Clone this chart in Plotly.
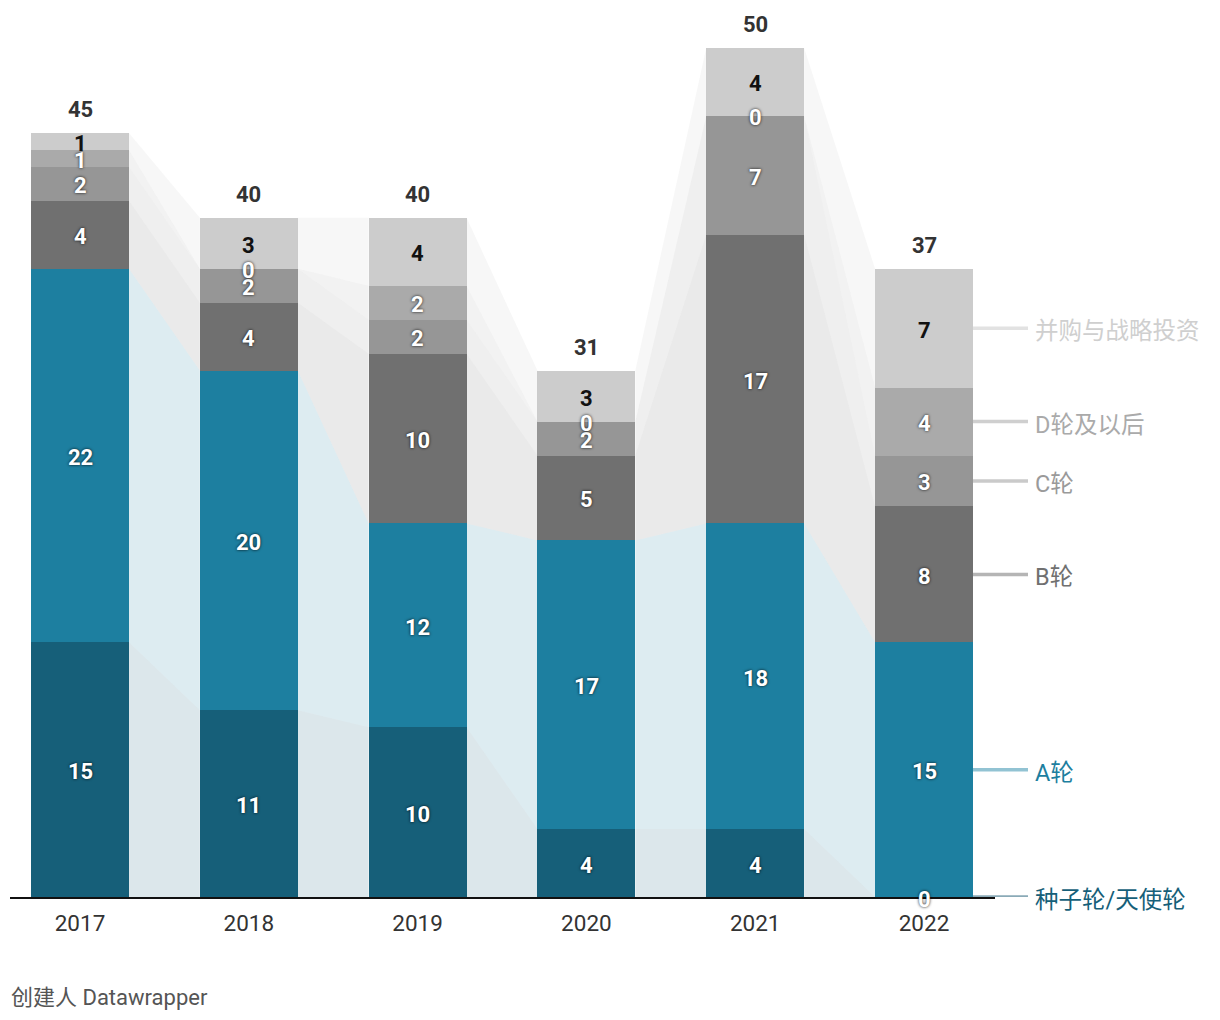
import plotly.graph_objects as go

years = ["2017", "2018", "2019", "2020", "2021", "2022"]
series_names = ["种子轮/天使轮", "A轮", "B轮", "C轮", "D轮及以后", "并购与战略投资"]
seed = [15, 11, 10, 4, 4, 0]
round_a = [22, 20, 12, 17, 18, 15]
round_b = [4, 4, 10, 5, 17, 8]
round_c = [2, 2, 2, 2, 7, 3]
round_d = [1, 0, 2, 0, 0, 4]
mna = [1, 3, 4, 3, 4, 7]
totals = [45, 40, 40, 31, 50, 37]

series_values = [seed, round_a, round_b, round_c, round_d, mna]
colors = ["#165f79", "#1d7fa0", "#707070", "#969696", "#aaaaaa", "#cccccc"]
fill_colors = ["rgba(22,95,121,0.15)", "rgba(29,127,160,0.15)", "rgba(112,112,112,0.15)",
               "rgba(150,150,150,0.15)", "rgba(170,170,170,0.15)", "rgba(204,204,204,0.15)"]
line_colors = ["#8aaab7", "#92c3d3", "#b5b5b5", "#cacaca", "#cfcfcf", "#e2e2e2"]
label_colors = ["#165f79", "#1d7fa0", "#707070", "#9a9a9a", "#aaaaaa", "#cfcfcf"]

FONT = "Roboto, 'Noto Sans CJK SC', sans-serif"
W = 0.58
n = len(years)
xs = list(range(n))
XMIN, XMAX = -0.4147, 5.4206

# cumulative bases
bases = []
cum = [0] * n
for vals in series_values:
    bases.append(cum[:])
    cum = [c + v for c, v in zip(cum, vals)]

fig = go.Figure()

# connecting areas
for k, vals in enumerate(series_values):
    px, py = [], []
    for i in range(n - 1):
        b0, t0 = bases[k][i], bases[k][i] + vals[i]
        b1, t1 = bases[k][i + 1], bases[k][i + 1] + vals[i + 1]
        xa, xb = i + W / 2, i + 1 - W / 2
        px += [xa, xa, xb, xb, xa, None]
        py += [b0, t0, t1, b1, b0, None]
    fig.add_trace(go.Scatter(x=px, y=py, mode="lines", fill="toself",
                             fillcolor=fill_colors[k], line=dict(width=0),
                             hoverinfo="skip", showlegend=False))

# bars
for k, vals in enumerate(series_values):
    fig.add_trace(go.Bar(x=xs, y=vals, width=W, marker=dict(color=colors[k], line=dict(width=0)),
                         name=series_names[k], showlegend=False))

# segment labels
for k, vals in enumerate(series_values):
    is_top = (k == len(series_values) - 1)
    for i, v in enumerate(vals):
        mid = bases[k][i] + v / 2
        fig.add_annotation(
            x=i, y=mid, text=f"<b>{v}</b>", showarrow=False, xanchor="center", yanchor="middle",
            yshift=-2,
            font=dict(family=FONT, size=22,
                      color="#111111" if is_top else "#ffffff",
                      shadow="none" if is_top else "0px 0px 3px rgba(0,0,0,0.9)"))

# totals
for i, t in enumerate(totals):
    fig.add_annotation(x=i, y=t, text=f"<b>{t}</b>", showarrow=False, yanchor="bottom",
                       yshift=9, font=dict(family=FONT, size=22, color="#333333"))

# right labels with leader lines
def to_paper(xv):
    return (xv - XMIN) / (XMAX - XMIN)

x_start = to_paper(n - 1 + W / 2)
x_end = to_paper(XMAX) + (1028 - 995) / 985
for k, vals in enumerate(series_values):
    mid = bases[k][-1] + vals[-1] / 2
    fig.add_shape(type="line", xref="paper", yref="y", x0=x_start, x1=x_end, y0=mid, y1=mid,
                  line=dict(color=line_colors[k], width=3.5), layer="below")
    fig.add_annotation(xref="paper", yref="y", x=x_end + 5 / 985, y=mid, text=series_names[k],
                       showarrow=False, xanchor="left", yanchor="middle", yshift=-3,
                       font=dict(family=FONT, size=23.5, color=label_colors[k]))

fig.add_annotation(xref="paper", yref="paper", x=0, y=(897 - 997) / 849, text="创建人 Datawrapper",
                   showarrow=False, xanchor="left", yanchor="middle", xshift=-1,
                   font=dict(family=FONT, size=22, color="#555555"))

fig.update_layout(
    width=1220, height=1020,
    margin=dict(l=10, r=225, t=48, b=123),
    barmode="stack", bargap=0,
    plot_bgcolor="white", paper_bgcolor="white",
    font=dict(family=FONT),
    xaxis=dict(range=[XMIN, XMAX], tickvals=xs, ticktext=years, showgrid=False, zeroline=False,
               showline=True, linecolor="#111111", linewidth=2,
               tickfont=dict(family=FONT, size=22.5, color="#333333"), ticks="", ticklabelstandoff=5),
    yaxis=dict(range=[0, 50], visible=False, showgrid=False, zeroline=False),
)

fig.write_html("out.html")
